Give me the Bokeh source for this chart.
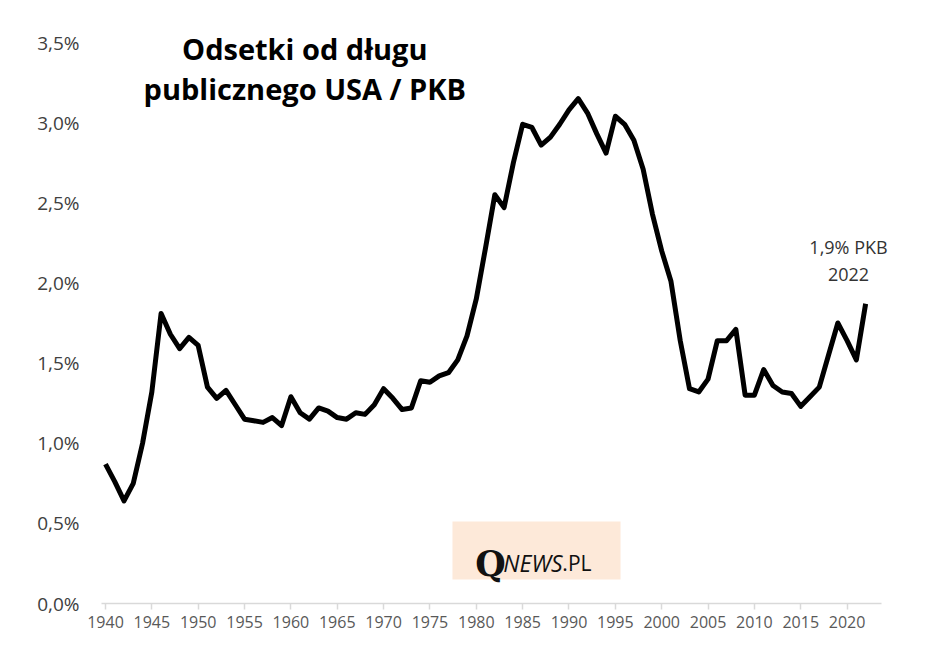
from bokeh.plotting import figure
from bokeh.models import Range1d, FixedTicker, Label, BoxAnnotation, ColumnDataSource
from bokeh.embed import file_html
from bokeh.resources import INLINE

years = list(range(1940, 2023))
values = [
    0.87, 0.76, 0.64, 0.75, 1.00, 1.32, 1.81, 1.68, 1.59, 1.66,   # 1940-1949
    1.61, 1.35, 1.28, 1.33, 1.24, 1.15, 1.14, 1.13, 1.16, 1.11,   # 1950-1959
    1.29, 1.19, 1.15, 1.22, 1.20, 1.16, 1.15, 1.19, 1.18, 1.24,   # 1960-1969
    1.34, 1.28, 1.21, 1.22, 1.39, 1.38, 1.42, 1.44, 1.52, 1.67,   # 1970-1979
    1.90, 2.22, 2.55, 2.47, 2.75, 2.99, 2.97, 2.86, 2.91, 2.99,   # 1980-1989
    3.08, 3.15, 3.06, 2.93, 2.81, 3.04, 2.99, 2.89, 2.71, 2.43,   # 1990-1999
    2.20, 2.01, 1.64, 1.34, 1.32, 1.40, 1.64, 1.64, 1.71, 1.30,   # 2000-2009
    1.30, 1.46, 1.36, 1.32, 1.31, 1.23, 1.29, 1.35, 1.55, 1.75,   # 2010-2019
    1.64, 1.52, 1.87,                                             # 2020-2022
]
x_ticks = list(range(1940, 2021, 5))
y_ticks = [0.0, 0.5, 1.0, 1.5, 2.0, 2.5, 3.0, 3.5]
y_tick_labels = ["0,0%", "0,5%", "1,0%", "1,5%", "2,0%", "2,5%", "3,0%", "3,5%"]

title_lines = ["Odsetki od długu", "publicznego USA / PKB"]
note_lines = ["1,9% PKB", "2022"]

src = ColumnDataSource(dict(year=years, value=values))

p = figure(width=932, height=636, output_backend="svg", toolbar_location=None,
           x_range=Range1d(1939.57, 2026.3), y_range=Range1d(0, 3.6),
           min_border_left=101, min_border_right=27, min_border_top=26, min_border_bottom=33)
p.outline_line_color = None
p.xgrid.visible = False
p.ygrid.visible = False
p.background_fill_color = "white"
p.border_fill_color = "white"

p.line("year", "value", source=src, line_color="black", line_width=5, line_join="round")

# axes
p.xaxis.bounds = (1939.57, 2023.71)
p.xaxis.ticker = FixedTicker(ticks=x_ticks)
p.xaxis.axis_line_color = "#d9d9d9"
p.xaxis.axis_line_width = 1.5
p.xaxis.major_tick_line_color = "#d9d9d9"
p.xaxis.major_tick_line_width = 1.5
p.xaxis.major_tick_in = 0
p.xaxis.major_tick_out = 6
p.xaxis.minor_tick_line_color = None
p.xaxis.major_label_standoff = 6
p.xaxis.major_label_text_font = "Open Sans"
p.xaxis.major_label_text_font_size = "16px"
p.xaxis.major_label_text_color = "#595959"

p.yaxis.ticker = FixedTicker(ticks=y_ticks)
p.yaxis.major_label_overrides = {t: l for t, l in zip(y_ticks, y_tick_labels)}
p.yaxis.axis_line_color = None
p.yaxis.major_tick_line_color = None
p.yaxis.minor_tick_line_color = None
p.yaxis.major_label_standoff = 16
p.yaxis.major_label_text_font = "Open Sans"
p.yaxis.major_label_text_font_size = "19px"
p.yaxis.major_label_text_color = "#404040"

# title
for i, t in enumerate(title_lines):
    p.add_layout(Label(x=1961.5, y=3.462 - i * 0.25, text=t, text_align="center",
                       text_baseline="alphabetic", text_font="Open Sans",
                       text_font_style="bold", text_font_size="29px", text_color="black"))

# annotation
for i, t in enumerate(note_lines):
    p.add_layout(Label(x=2020.15, y=2.227 - i * 0.175, text=t, text_align="center",
                       text_baseline="alphabetic", text_font="Open Sans",
                       text_font_size="18px", text_color="#333333"))

# logo
p.add_layout(BoxAnnotation(left=1977.43, right=1995.56, bottom=0.150, top=0.512,
                           fill_color="#fde9d9", fill_alpha=1.0, line_color=None))
p.add_layout(Label(x=1979.9, y=0.25, text="Q", text_baseline="alphabetic",
                   text_font="DejaVu Serif", text_font_style="bold",
                   text_font_size="35px", text_color="#111111"))
p.add_layout(Label(x=1979.9, y=0.25, x_offset=28, text="NEWS", text_baseline="alphabetic",
                   text_font="Open Sans", text_font_style="italic",
                   text_font_size="23px", text_color="#111111"))
p.add_layout(Label(x=1979.9, y=0.25, x_offset=87, text=".PL", text_baseline="alphabetic",
                   text_font="Open Sans", text_font_size="21px", text_color="#111111"))

open("out.html", "w").write(file_html(p, INLINE))
